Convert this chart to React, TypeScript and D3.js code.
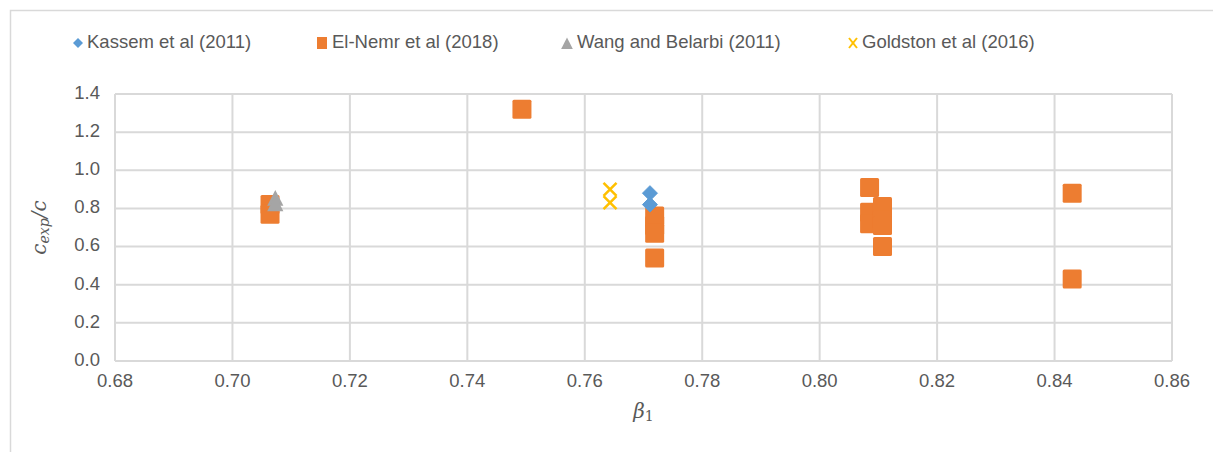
import React from "react";
import * as d3 from "d3";

// β1 vs c_exp/c by study
const kassemX = [0.7711, 0.7711];
const kassemY = [0.88, 0.82];

const elNemrX = [0.7064, 0.7064, 0.7493, 0.7719, 0.7719, 0.7719, 0.7719, 0.8085, 0.8085, 0.8085, 0.8107, 0.8107, 0.8107, 0.8107, 0.843, 0.843];
const elNemrY = [0.82, 0.77, 1.32, 0.76, 0.71, 0.67, 0.54, 0.91, 0.78, 0.72, 0.81, 0.74, 0.71, 0.6, 0.88, 0.43];

const wangX = [0.7073, 0.7073];
const wangY = [0.85, 0.82];

const goldstonX = [0.7643, 0.7643];
const goldstonY = [0.9, 0.83];

const xTicks = [0.68, 0.7, 0.72, 0.74, 0.76, 0.78, 0.8, 0.82, 0.84, 0.86];
const yTicks = [0, 0.2, 0.4, 0.6, 0.8, 1.0, 1.2, 1.4];

const legendLabels = ["Kassem et al (2011)", "El-Nemr et al (2018)", "Wang and Belarbi (2011)", "Goldston et al (2016)"];

const BLUE = "#5B9BD5";
const ORANGE = "#ED7D31";
const GRAY = "#A5A5A5";
const GOLD = "#FFC000";
const GRID = "#D9D9D9";
const TEXT = "#595959";
const FONT = "'Liberation Sans', Arial, sans-serif";

const W = 1213;
const H = 452;
const left = 115;
const right = 1172;
const top = 94;
const bottom = 361;

const x = d3.scaleLinear().domain([0.68, 0.86]).range([left, right]);
const y = d3.scaleLinear().domain([0, 1.4]).range([bottom, top]);

const pairs = (xs: number[], ys: number[]) => xs.map((v, i) => [v, ys[i]] as [number, number]);

const diamond = (cx: number, cy: number, r: number) =>
  `M${cx},${cy - r}L${cx + r},${cy}L${cx},${cy + r}L${cx - r},${cy}Z`;
const triangle = (cx: number, cy: number, r: number) =>
  `M${cx},${cy - r}L${cx + r * 0.9},${cy + r * 0.75}L${cx - r * 0.9},${cy + r * 0.75}Z`;

export default function App() {
  return (
    <svg width={W} height={H} style={{ position: "absolute", left: 0, top: 0, background: "#fff" }}>
      <rect x={10.5} y={10.5} width={W + 10} height={H + 10} fill="#fff" stroke={GRID} strokeWidth={1.5} />

      {/* grid */}
      {xTicks.map((t) => (
        <line key={"gx" + t} x1={x(t)} x2={x(t)} y1={top} y2={bottom} stroke={GRID} strokeWidth={2} />
      ))}
      {yTicks.map((t) => (
        <line key={"gy" + t} x1={left} x2={right} y1={y(t)} y2={y(t)} stroke={GRID} strokeWidth={2} />
      ))}

      {/* tick labels */}
      {xTicks.map((t) => (
        <text key={"tx" + t} x={x(t)} y={bottom + 21} textAnchor="middle" dominantBaseline="middle"
          fontFamily={FONT} fontSize={18.5} fill={TEXT}>
          {d3.format(".2f")(t)}
        </text>
      ))}
      {yTicks.map((t) => (
        <text key={"ty" + t} x={left - 15} y={y(t)} textAnchor="end" dominantBaseline="middle"
          fontFamily={FONT} fontSize={18.5} fill={TEXT}>
          {d3.format(".1f")(t)}
        </text>
      ))}

      {/* axis titles */}
      <text x={(left + right) / 2 + 0} y={412} textAnchor="middle" dominantBaseline="middle"
        fontFamily="'DejaVu Serif', 'Liberation Serif', serif" fontStyle="italic" fontSize={20} fill={TEXT}>
        β<tspan fontStyle="normal" fontSize={14} dy={5}>1</tspan>
      </text>
      <text transform={`translate(40,${(top + bottom) / 2}) rotate(-90)`} textAnchor="middle" dominantBaseline="middle"
        fontFamily="'DejaVu Serif', 'Liberation Serif', serif" fontStyle="italic" fontSize={20} fill={TEXT}>
        c<tspan fontSize={14} dy={5}>exp</tspan><tspan dy={-5}>/c</tspan>
      </text>

      {/* El-Nemr */}
      {pairs(elNemrX, elNemrY).map(([a, b], i) => (
        <rect key={"e" + i} x={x(a) - 9.5} y={y(b) - 9.5} width={19} height={19} rx={1.5} fill={ORANGE} />
      ))}
      {/* Wang and Belarbi */}
      {pairs(wangX, wangY).map(([a, b], i) => (
        <path key={"w" + i} d={triangle(x(a), y(b), 9)} fill={GRAY} />
      ))}
      {/* Kassem */}
      {pairs(kassemX, kassemY).map(([a, b], i) => (
        <path key={"k" + i} d={diamond(x(a), y(b), 7.5)} fill={BLUE} strokeLinejoin="round" stroke={BLUE} strokeWidth={1} />
      ))}
      {/* Goldston */}
      {pairs(goldstonX, goldstonY).map(([a, b], i) => {
        const cx = x(a), cy = y(b), r = 6.5;
        return (
          <g key={"g" + i} stroke={GOLD} strokeWidth={2.5}>
            <line x1={cx - r} y1={cy - r} x2={cx + r} y2={cy + r} />
            <line x1={cx - r} y1={cy + r} x2={cx + r} y2={cy - r} />
          </g>
        );
      })}

      {/* legend */}
      {(() => {
        const ly = 43;
        const items = [
          { mx: 78, tx: 87 },
          { mx: 322, tx: 332 },
          { mx: 567, tx: 577 },
          { mx: 853, tx: 862 },
        ];
        return items.map((it, i) => (
          <g key={"l" + i}>
            {i === 0 && <path d={diamond(it.mx, ly, 5)} fill={BLUE} />}
            {i === 1 && <rect x={it.mx - 5} y={ly - 6} width={10} height={12} fill={ORANGE} />}
            {i === 2 && <path d={triangle(it.mx, ly + 1, 6.5)} fill={GRAY} />}
            {i === 3 && (
              <g stroke={GOLD} strokeWidth={2}>
                <line x1={it.mx - 4} y1={ly - 5} x2={it.mx + 4} y2={ly + 5} />
                <line x1={it.mx - 4} y1={ly + 5} x2={it.mx + 4} y2={ly - 5} />
              </g>
            )}
            <text x={it.tx} y={ly} dominantBaseline="middle" fontFamily={FONT} fontSize={18.5} fill={TEXT}>
              {legendLabels[i]}
            </text>
          </g>
        ));
      })()}
    </svg>
  );
}
